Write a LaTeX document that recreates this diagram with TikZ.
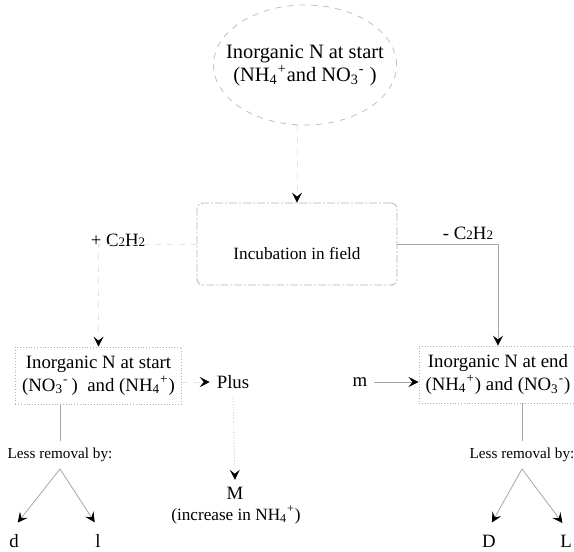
\documentclass[tikz,border=0pt]{standalone}
\usepackage{fontspec}
\setmainfont{Liberation Serif}
\usetikzlibrary{arrows.meta,shapes.geometric}
\newcommand{\sm}[1]{{\fontsize{6.5}{7}\selectfont #1}}
\newcommand{\ion}[2]{\textsubscript{#1}\textsuperscript{#2}}

\begin{document}
\begin{tikzpicture}[x=0.5pt,y=-0.5pt,
    txt/.style={font=\fontsize{9.4}{11.5}\selectfont, align=center},
    small/.style={font=\fontsize{8.6}{10}\selectfont},
    tip/.style={-{Stealth[length=5pt,width=5pt,inset=2pt,color=black]}},
    faint/.style={color=gray!20, dashed},
    line/.style={color=gray!70, thin},
    frame/.style={draw=gray!60, densely dotted, thin}]
    \useasboundingbox (0,0) rectangle (574,552);
    \node[ellipse, draw=gray!50, dashed, thin, inner xsep=-7.2pt, inner ysep=0pt, minimum width=91.5pt, minimum height=60pt, txt, font=\fontsize{10.2}{11.5}\selectfont] (start) at (305,65) {Inorganic N at start\\(NH\ion{4}{+}and NO\ion{3}{-} )};
    \node[draw=gray!60, dash pattern=on 4pt off 1pt on 1pt off 1pt, thin, rounded corners=3pt, minimum width=100pt, minimum height=41pt, txt, small, text height=15pt, text depth=0pt] (incub) at (297,244) {Incubation in field};
    \draw[faint, tip] (incub.north |- start.south) -- (incub.north);
    \node[txt] (plusc) at (118,240) {+ C\sm{2}H\sm{2}};
    \node[txt] (minusc) at (468,233) {- C\sm{2}H\sm{2}};
    \node[frame, txt, minimum width=78.5pt, minimum height=28.5pt] (lbox) at (98.5,375.5) {Inorganic N at start\\(NO\ion{3}{-}\,)~ and (NH\ion{4}{+})};
    \node[frame, txt, minimum width=76pt, minimum height=28.5pt] (rbox) at (498,374.5) {Inorganic N at end\\(NH\ion{4}{+}) and (NO\ion{3}{-})};
    \draw[faint, tip] (incub.west) -| (lbox.north);
    \draw[line, tip] (incub.east) -| (rbox.north);
    \node[txt] (plus) at (233,382) {Plus};
    \draw[faint, tip] (lbox.east |- plus.west) -- (plus.west);
    \node[txt] (m) at (360,382) {m};
    \draw[line, tip] (m.east) -- (rbox.west |- m.east);
    \node[txt] (bigm) at (235,493) {M};
    \node[txt, small] (incr) at (236,515) {(increase in NH\ion{4}{+})};
    \draw[gray!50, densely dotted, tip] (plus.south) -- (bigm.north);
    \node[txt, font=\fontsize{7.6}{9}\selectfont] (lrem) at (60,455) {Less removal by:};
    \node[txt, font=\fontsize{7.6}{9}\selectfont] (rrem) at (522,455) {Less removal by:};
    \draw[line] (lrem.north |- lbox.south) -- (lrem.north);
    \draw[line] (rrem.north |- rbox.south) -- (rrem.north);
    \node[txt] (d) at (14,541) {d};
    \node[txt] (l) at (98,541) {l};
    \node[txt] (dd) at (489,541) {D};
    \node[txt] (ll) at (566,541) {L};
    \draw[line, tip, shorten >=3pt] (lrem.south) -- (d.north);
    \draw[line, tip, shorten >=3pt] (lrem.south) -- (l.north);
    \draw[line, tip, shorten >=3pt] (rrem.south) -- (dd.north);
    \draw[line, tip, shorten >=3pt] (rrem.south) -- (ll.north);
\end{tikzpicture}
\end{document}
